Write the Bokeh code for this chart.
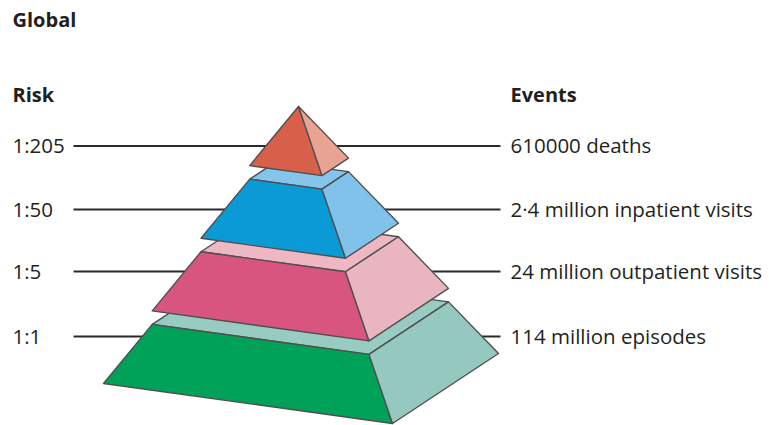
from bokeh.plotting import figure
from bokeh.models import Range1d, ColumnDataSource
from bokeh.core.properties import value
from bokeh.embed import file_html
from bokeh.resources import INLINE

# ---- data (top tier first) ----
risk_labels = ["1:205", "1:50", "1:5", "1:1"]
event_labels = ["610000 deaths", "2·4 million inpatient visits",
                "24 million outpatient visits", "114 million episodes"]
title_text = "Global"
risk_header = "Risk"
event_header = "Events"

# ---- styles (top tier first) ----
front_colors = ["#D8604A", "#0A9AD6", "#D8557F", "#00A25A"]
side_colors = ["#E9A392", "#80C2EA", "#E9B5C1", "#95C8BF"]
top_colors = ["#E9A392", "#85C5EC", "#EDB7C3", "#98CCC2"]

# ---- layout geometry (image pixel space, y grows downward) ----
BASE_L = (103.0, 383.0)
BASE_F = (392.0, 423.0)
BASE_R = (498.0, 353.0)
APEX = (298.0, 146.5)
GAP = 13.5
label_y = [145.5, 209.0, 271.0, 336.0]
LINE_X0, LINE_X1 = 73, 500
LEFT_X, RIGHT_X = 12, 510

W, H = 769, 425
p = figure(width=W, height=H, output_backend="svg", toolbar_location=None,
           x_range=Range1d(0, 769), y_range=Range1d(425, 0),
           min_border=0, min_border_left=0, min_border_right=0,
           min_border_top=0, min_border_bottom=0)
p.axis.visible = False
p.grid.visible = False
p.outline_line_color = None
p.background_fill_color = "white"
p.border_fill_color = "white"

# connector lines (behind pyramid)
p.segment(x0=[LINE_X0] * len(label_y), y0=label_y, x1=[LINE_X1] * len(label_y), y1=label_y,
          line_color="#2a2a2a", line_width=2)


def pt(P, t, k):
    return (P[0] + t * (APEX[0] - P[0]), P[1] + t * (APEX[1] - P[1]) - k * GAP)


n = len(risk_labels)
xs, ys, fills = [], [], []
for k in range(n):  # k = 0 bottom tier
    tier = n - 1 - k
    t0, t1 = k / n, (k + 1) / n
    L0, F0, R0 = pt(BASE_L, t0, k), pt(BASE_F, t0, k), pt(BASE_R, t0, k)
    L1, F1, R1 = pt(BASE_L, t1, k), pt(BASE_F, t1, k), pt(BASE_R, t1, k)
    if k < n - 1:
        B1 = (L1[0] + R1[0] - F1[0], L1[1] + R1[1] - F1[1])
        quad = [L1, F1, R1, B1]
        xs.append([q[0] for q in quad]); ys.append([q[1] for q in quad]); fills.append(top_colors[tier])
    face = [L0, F0, F1, L1]
    xs.append([q[0] for q in face]); ys.append([q[1] for q in face]); fills.append(front_colors[tier])
    side = [F0, R0, R1, F1]
    xs.append([q[0] for q in side]); ys.append([q[1] for q in side]); fills.append(side_colors[tier])

src = ColumnDataSource(dict(xs=xs, ys=ys, fill=fills))
p.patches("xs", "ys", source=src, fill_color="fill", line_color="#4f4f4f",
          line_width=1.4, line_join="round")

font = value("Open Sans")
txt_color = "#231F20"
p.text(x=[LEFT_X] * n, y=[y - 1 for y in label_y], text=risk_labels, text_font=font,
       text_font_size="20.5px", text_color=txt_color, text_baseline="middle", text_align="left")
p.text(x=[RIGHT_X] * n, y=[y - 1 for y in label_y], text=event_labels, text_font=font,
       text_font_size="20.5px", text_color=txt_color, text_baseline="middle", text_align="left")
p.text(x=[LEFT_X, LEFT_X, RIGHT_X], y=[19, 94, 94], text=[title_text, risk_header, event_header],
       text_font=font, text_font_style="bold", text_font_size="20px", text_color=txt_color,
       text_baseline="middle", text_align="left")

open("out.html", "w").write(file_html(p, INLINE))
